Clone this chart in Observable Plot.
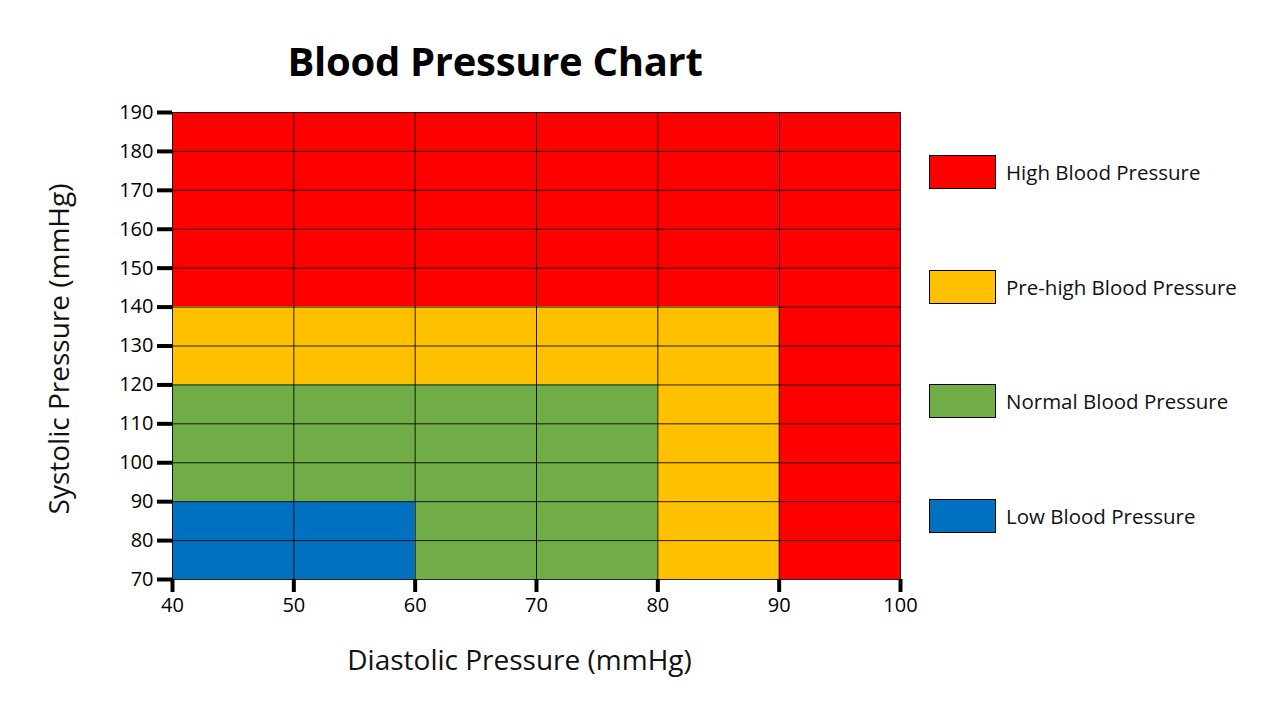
<!DOCTYPE html>
<html>
<head>
<meta charset="utf-8">
<script src="https://cdn.jsdelivr.net/npm/d3@7"></script>
<script src="https://cdn.jsdelivr.net/npm/@observablehq/plot@0.6"></script>
<style>
  html, body { margin: 0; padding: 0; background: #fff; }
  #wrap { position: relative; width: 1280px; height: 720px; font-family: "Open Sans", sans-serif; }
  #title { position: absolute; left: 0; width: 990px; top: 33px; text-align: center; font-size: 40px; font-weight: bold; color: #000; letter-spacing: -0.3px; }
  #chart { position: absolute; left: 0; top: 0; }
  #legend { position: absolute; left: 929px; top: 0; }
  .item { position: absolute; left: 0; display: flex; align-items: center; white-space: nowrap; }
  .sw { width: 67px; height: 34px; border: 1px solid #000; box-sizing: border-box; }
  .lab { margin-left: 10px; font-size: 20.5px; color: #111; }
</style>
</head>
<body>
<div id="wrap">
  <div id="title">Blood Pressure Chart</div>
  <div id="chart"></div>
  <div id="legend"></div>
</div>
<script>
// Zone categories and their rectangles (diastolic x1..x2, systolic y1..y2)
const zoneCategory = ["High", "High", "Pre-high", "Pre-high", "Normal", "Normal", "Low"];
const zoneDiaFrom  = [40, 90, 40, 80, 40, 60, 40];
const zoneDiaTo    = [90, 100, 90, 90, 80, 80, 60];
const zoneSysFrom  = [140, 70, 120, 70, 90, 70, 70];
const zoneSysTo    = [190, 190, 140, 120, 120, 90, 90];

const categories   = ["High", "Pre-high", "Normal", "Low"];
const legendLabels = ["High Blood Pressure", "Pre-high Blood Pressure", "Normal Blood Pressure", "Low Blood Pressure"];
const categoryColors = ["#FF0000", "#FFC000", "#70AD47", "#0070C0"];

const xTicks = [40, 50, 60, 70, 80, 90, 100];
const yTicks = [70, 80, 90, 100, 110, 120, 130, 140, 150, 160, 170, 180, 190];

const zones = zoneCategory.map((c, i) => ({
  cat: c, x1: zoneDiaFrom[i], x2: zoneDiaTo[i], y1: zoneSysFrom[i], y2: zoneSysTo[i]
}));

const plot = Plot.plot({
  width: 1280,
  height: 720,
  marginLeft: 172,
  marginRight: 380,
  marginTop: 112,
  marginBottom: 141,
  style: { fontFamily: "'Open Sans', sans-serif", color: "#000", background: "transparent" },
  x: { domain: [40, 100] },
  y: { domain: [70, 190] },
  color: { domain: categories, range: categoryColors },
  marks: [
    Plot.rect(zones, { x1: "x1", x2: "x2", y1: "y1", y2: "y2", fill: "cat", inset: 0 }),
    Plot.ruleX(xTicks, { stroke: "#000", strokeWidth: 1, strokeOpacity: 0.85 }),
    Plot.ruleY(yTicks, { stroke: "#000", strokeWidth: 1, strokeOpacity: 0.85 }),
    Plot.axisY({ ticks: yTicks, tickSize: 15, tickPadding: 4, strokeWidth: 4, fontSize: 20, label: null, tickFormat: d => String(d) }),
    Plot.axisX({ ticks: xTicks, tickSize: 13, tickPadding: 5, strokeWidth: 4, fontSize: 20, label: null, tickFormat: d => String(d) }),
    Plot.text(["Diastolic Pressure (mmHg)"], { frameAnchor: "bottom", lineAnchor: "middle", textAnchor: "middle", dx: -17, dy: 82, fontSize: 28, fill: "#111" }),
    Plot.text(["Systolic Pressure (mmHg)"], { frameAnchor: "left", lineAnchor: "middle", textAnchor: "middle", dx: -112, dy: 3, rotate: -90, fontSize: 28, fill: "#111" })
  ]
});
document.getElementById("chart").appendChild(plot);

const legendCenters = [172, 287, 401, 516];
const legend = document.getElementById("legend");
categories.forEach((c, i) => {
  const item = document.createElement("div");
  item.className = "item";
  item.style.top = (legendCenters[i] - 17) + "px";
  item.innerHTML = `<div class="sw" style="background:${categoryColors[i]}"></div><div class="lab">${legendLabels[i]}</div>`;
  legend.appendChild(item);
});
</script>
</body>
</html>
